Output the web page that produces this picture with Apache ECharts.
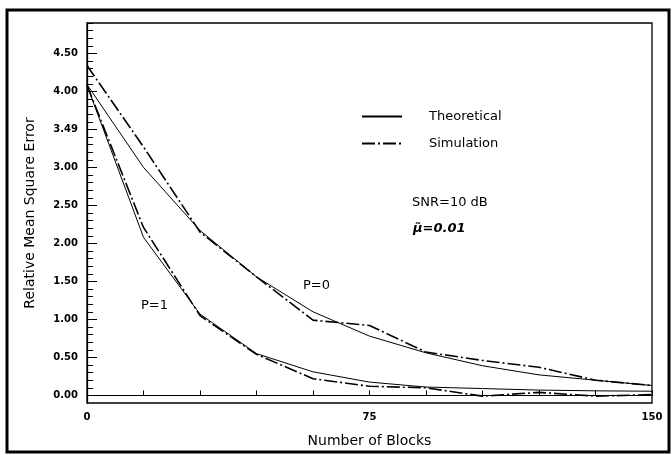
<!DOCTYPE html>
<html>
<head>
<meta charset="utf-8">
<script src="https://cdn.jsdelivr.net/npm/echarts@6/dist/echarts.min.js"></script>
<style>
html,body{margin:0;padding:0;background:#fff;}
#c{width:672px;height:455px;}
</style>
</head>
<body>
<div id="c"></div>
<script>
// Data
var blocks = [0, 15, 30, 45, 60, 75, 90, 105, 120, 135, 150];
var theoP0 = [4.09, 3.00, 2.17, 1.56, 1.10, 0.78, 0.56, 0.39, 0.27, 0.20, 0.13];
var simP0  = [4.34, 3.27, 2.15, 1.56, 0.99, 0.92, 0.57, 0.46, 0.37, 0.20, 0.13];
var theoP1 = [4.08, 2.08, 1.07, 0.55, 0.31, 0.175, 0.11, 0.09, 0.07, 0.06, 0.055];
var simP1  = [4.08, 2.21, 1.05, 0.54, 0.22, 0.12, 0.10, -0.01, 0.04, -0.01, 0.01];

var yTickValues = [0, 0.5, 1, 1.5, 2, 2.5, 3, 3.5, 4, 4.5];
var yTickLabels = ['0.00', '0.50', '1.00', '1.50', '2.00', '2.50', '3.00', '3.49', '4.00', '4.50'];
var xTickValues = [0, 15, 30, 45, 60, 75, 90, 105, 120, 135, 150];
var xLabelValues = [0, 75, 150];
var xLabels = ['0', '75', '150'];

var yMinorTicks = [];
for (var i = 0; i <= 49; i++) { yMinorTicks.push(i / 10); }

function pairs(ys) { return blocks.map(function (b, i) { return [b, ys[i]]; }); }
function lookup(vals, labs, v) {
  for (var k = 0; k < vals.length; k++) { if (Math.abs(vals[k] - v) < 1e-6) return labs[k]; }
  return '';
}

var FONT = 'DejaVu Sans';
var thin = { color: '#000', width: 1, type: 'solid' };
var dashdot = { color: '#000', width: 1.6, type: [13, 3, 2, 3] };

var chart = echarts.init(document.getElementById('c'), null, { renderer: 'canvas' });
chart.setOption({
  animation: false,
  backgroundColor: '#fff',
  grid: { left: 87, right: 20, top: 23, bottom: 52, show: true, borderColor: '#000', borderWidth: 1.3, backgroundColor: 'transparent' },
  legend: {
    data: [
      { name: 'Theoretical', itemStyle: { opacity: 0 } },
      { name: 'Simulation', itemStyle: { opacity: 0 } }
    ],
    orient: 'vertical', left: 356, top: 105, itemWidth: 40, itemHeight: 14, itemGap: 14,
    textStyle: { fontFamily: FONT, fontSize: 13, color: '#000', padding: [0, 0, 0, 22] },
    selectedMode: false
  },
  xAxis: [{
    type: 'value', min: 0, max: 150,
    axisLine: { show: true, onZero: true, lineStyle: { color: '#000', width: 1 } },
    axisTick: { show: true, inside: true, length: 5, customValues: xTickValues, lineStyle: { color: '#000' } },
    axisLabel: { customValues: xLabelValues, margin: 9, fontFamily: FONT, fontSize: 10, fontWeight: 'bold', color: '#000',
      formatter: function (v) { return lookup(xLabelValues, xLabels, v); } },
    splitLine: { show: false },
    name: 'Number of Blocks', nameLocation: 'middle', nameGap: 31,
    nameTextStyle: { fontFamily: FONT, fontSize: 14, color: '#000' }
  }],
  yAxis: [{
    type: 'value', min: -0.1, max: 4.9,
    axisLine: { show: true, lineStyle: { color: '#000', width: 1.3 } },
    axisTick: { show: true, inside: true, length: 10, customValues: yTickValues, lineStyle: { color: '#000' } },
    axisLabel: { customValues: yTickValues, margin: 9, fontFamily: FONT, fontSize: 10, fontWeight: 'bold', color: '#000',
      formatter: function (v) { return lookup(yTickValues, yTickLabels, v); } },
    splitLine: { show: false },
    name: 'Relative Mean Square Error', nameLocation: 'middle', nameGap: 50,
    nameTextStyle: { fontFamily: FONT, fontSize: 14, color: '#000' }
  }, {
    type: 'value', min: -0.1, max: 4.9, position: 'left', offset: 0,
    axisLine: { show: false },
    axisTick: { show: true, inside: true, length: 6, customValues: yMinorTicks, lineStyle: { color: '#000' } },
    axisLabel: { show: false },
    splitLine: { show: false }
  }],
  series: [
    { name: 'Theoretical', type: 'line', data: pairs(theoP0), symbol: 'none', lineStyle: thin, itemStyle: { color: '#000' }, z: 3 },
    { name: 'Simulation', type: 'line', data: pairs(simP0), symbol: 'none', lineStyle: dashdot, itemStyle: { color: '#000' }, z: 3 },
    { name: 'Theoretical', type: 'line', data: pairs(theoP1), symbol: 'none', lineStyle: thin, itemStyle: { color: '#000' }, z: 3 },
    { name: 'Simulation', type: 'line', data: pairs(simP1), symbol: 'none', lineStyle: dashdot, itemStyle: { color: '#000' }, z: 3 }
  ],
  graphic: [
    { type: 'rect', shape: { x: 7, y: 10, width: 662, height: 442 }, style: { fill: 'none', stroke: '#000', lineWidth: 3 }, silent: true },
    { type: 'text', left: 412, top: 196, style: { text: 'SNR=10 dB', font: '13px "DejaVu Sans"', fill: '#000' } },
    { type: 'text', left: 413, top: 222, style: { text: 'μ̃=0.01', font: 'italic bold 13px "DejaVu Sans"', fill: '#000' } },
    { type: 'text', left: 303, top: 279, style: { text: 'P=0', font: '13px "DejaVu Sans"', fill: '#000' } },
    { type: 'text', left: 141, top: 299, style: { text: 'P=1', font: '13px "DejaVu Sans"', fill: '#000' } }
  ]
});
</script>
</body>
</html>
